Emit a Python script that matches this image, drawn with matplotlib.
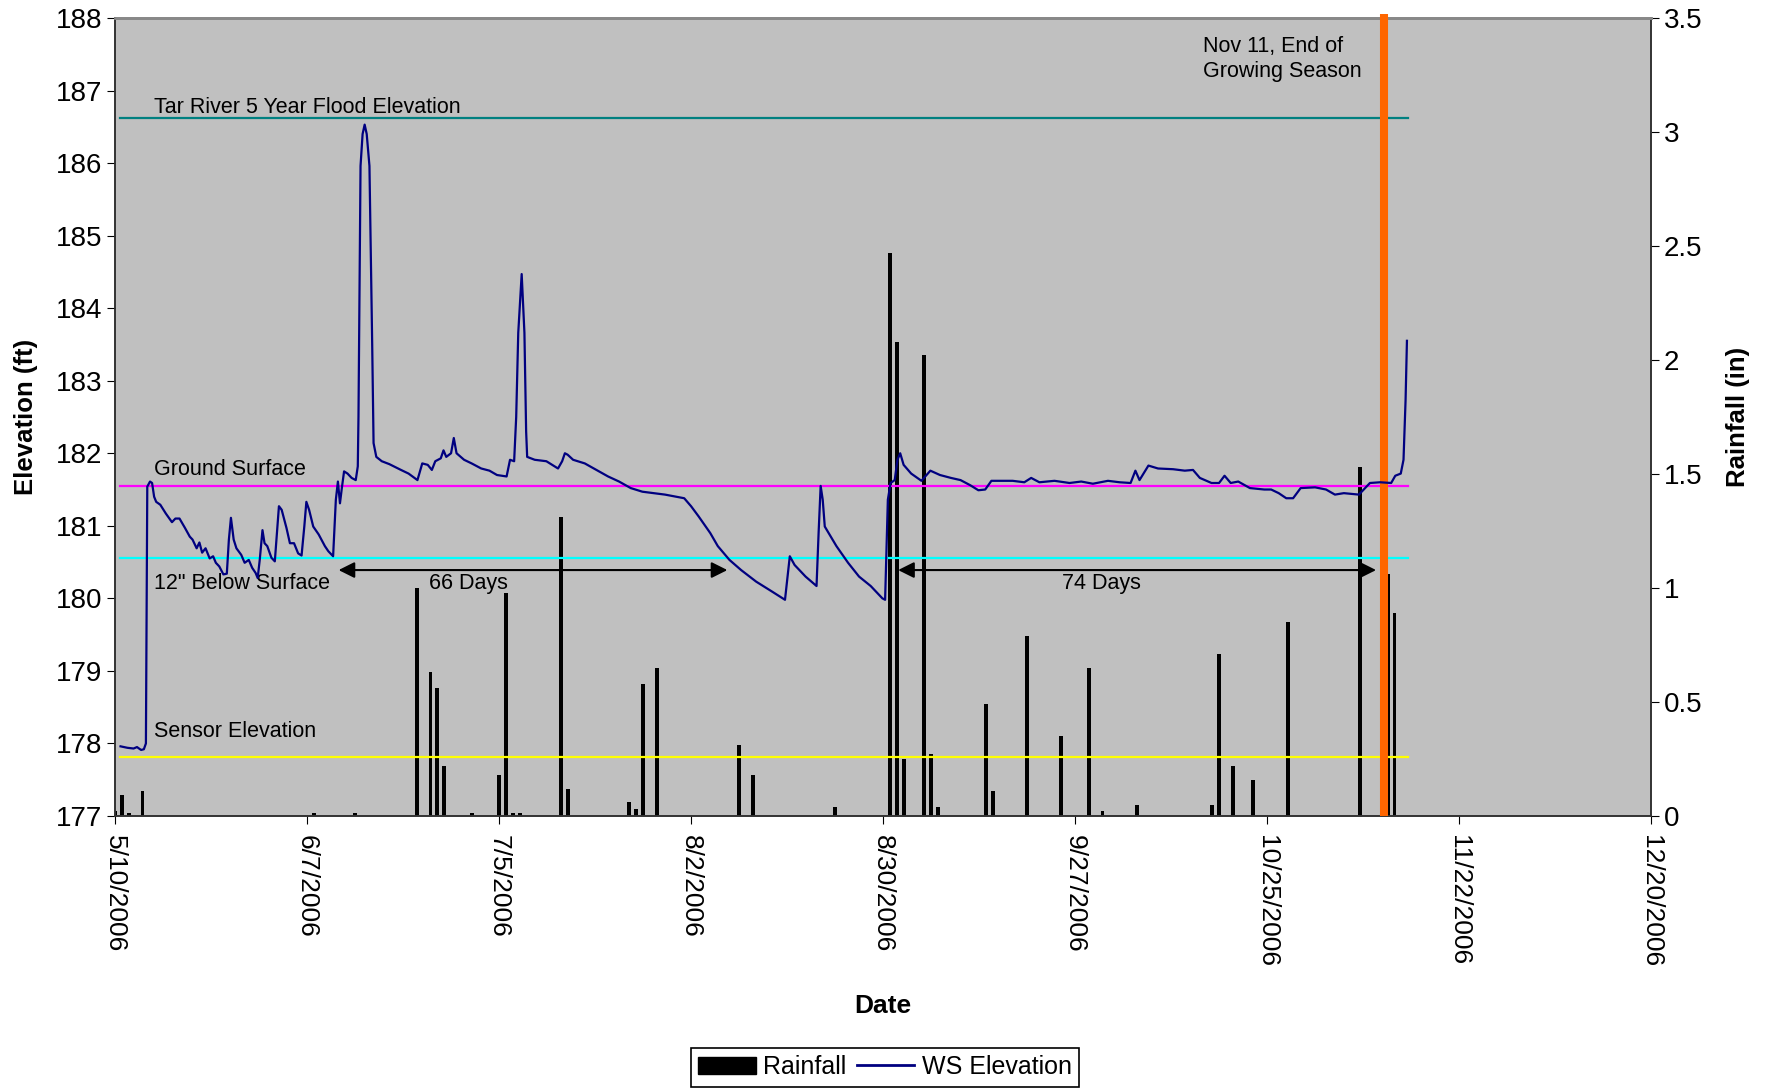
import numpy as np
import matplotlib
matplotlib.use('Agg')
import matplotlib.pyplot as plt
from matplotlib.patches import Patch
from matplotlib.lines import Line2D

# days counted from 5/10/2006
tick_days = [0, 28, 56, 84, 112, 140, 168, 196, 224]
tick_labels = ['5/10/2006', '6/7/2006', '7/5/2006', '8/2/2006', '8/30/2006',
               '9/27/2006', '10/25/2006', '11/22/2006', '12/20/2006']

# water surface elevation (ft)
ws_day = [0.8, 1.8, 2.7, 3.2, 3.8, 4.2, 4.5, 4.7, 5.1, 5.4, 5.7, 6.0, 6.6, 7.4, 8.3,
          8.8, 9.4, 10.2, 10.9, 11.3, 11.9, 12.3, 12.7, 13.2, 13.8, 14.3, 14.7, 15.2,
          15.8, 16.3, 16.6, 16.9, 17.3, 17.7, 18.4, 18.9, 19.5, 20.0, 20.5, 20.8, 21.1,
          21.5, 21.8, 22.2, 22.8, 23.3, 23.6, 23.9, 24.3, 25.0, 25.5, 26.1, 26.7, 27.2,
          27.6, 27.9, 28.3, 28.9, 29.7, 30.6, 31.1, 31.8, 32.2, 32.5, 32.8, 33.1, 33.4,
          33.9, 34.5, 35.1, 35.4, 35.5, 35.8, 36.1, 36.4, 36.7, 37.1, 37.5, 37.7, 38.1,
          38.9, 40.0, 41.7, 42.8, 44.1, 44.8, 45.6, 46.2, 46.7, 47.5, 47.9, 48.3, 49.0,
          49.4, 49.8, 50.9, 52.0, 53.4, 54.6, 55.7, 57.1, 57.6, 58.2, 58.5, 58.8, 59.3,
          59.7, 59.95, 60.1, 61.2, 62.9, 64.6, 65.2, 65.6, 66.0, 66.8, 68.5, 70.2, 71.9,
          73.5, 75.2, 76.9, 78.5, 80.2, 81.9, 83.0, 84.0, 85.1, 86.8, 87.9, 89.6, 91.3,
          93.5, 95.7, 97.7, 98.4, 99.1, 100.7, 102.3, 102.6, 102.9, 103.2, 103.5, 105.2,
          106.9, 108.5, 110.2, 111.9, 112.3, 112.7, 113.1, 113.7, 114.1, 114.5, 115.0,
          116.1, 117.6, 118.9, 120.3, 121.9, 123.3, 124.7, 125.9, 126.9, 127.8, 129.2,
          130.9, 132.6, 133.6, 134.8, 137.0, 139.2, 140.9, 142.6, 144.8, 146.5, 148.1,
          148.8, 149.4, 150.7, 152.1, 154.3, 156.0, 157.2, 158.2, 159.9, 161.0, 161.8,
          162.7, 163.8, 165.5, 167.6, 168.6, 169.7, 170.8, 171.8, 172.9, 175.0, 176.6,
          177.9, 179.2, 181.4, 182.4, 183.0, 184.5, 186.1, 186.7, 187.5, 187.9, 188.2,
          188.4]
ws_elev = [177.96, 177.94, 177.93, 177.95, 177.91, 177.92, 178.0, 181.54, 181.61, 181.59,
           181.40, 181.33, 181.29, 181.17, 181.05, 181.10, 181.10, 180.97, 180.85, 180.81,
           180.69, 180.77, 180.63, 180.69, 180.55, 180.58, 180.49, 180.44, 180.33, 180.34,
           180.81, 181.11, 180.81, 180.69, 180.60, 180.49, 180.53, 180.42, 180.35, 180.28,
           180.53, 180.94, 180.76, 180.72, 180.56, 180.51, 180.90, 181.27, 181.22, 180.97,
           180.76, 180.76, 180.62, 180.59, 180.99, 181.33, 181.22, 180.99, 180.88, 180.72,
           180.65, 180.58, 181.36, 181.61, 181.31, 181.54, 181.75, 181.72, 181.66, 181.63,
           181.82, 182.5, 185.96, 186.4, 186.53, 186.4, 185.96, 183.5, 182.14, 181.95,
           181.89, 181.85, 181.77, 181.72, 181.63, 181.86, 181.84, 181.77, 181.89, 181.93,
           182.04, 181.95, 182.00, 182.21, 182.00, 181.91, 181.86, 181.79, 181.76, 181.70,
           181.68, 181.91, 181.89, 182.5, 183.66, 184.47, 183.66, 182.3, 181.95, 181.91,
           181.89, 181.79, 181.89, 182.00, 181.98, 181.91, 181.86, 181.77, 181.68, 181.61,
           181.52, 181.47, 181.45, 181.43, 181.40, 181.38, 181.27, 181.13, 180.90, 180.72,
           180.53, 180.39, 180.23, 180.10, 179.98, 180.58, 180.46, 180.30, 180.17, 180.90,
           181.55, 181.36, 180.99, 180.72, 180.49, 180.30, 180.17, 180.00, 179.98, 181.36,
           181.59, 181.63, 181.91, 182.00, 181.84, 181.72, 181.62, 181.76, 181.70, 181.66,
           181.63, 181.56, 181.49, 181.50, 181.62, 181.62, 181.62, 181.60, 181.66, 181.60,
           181.62, 181.59, 181.61, 181.58, 181.62, 181.60, 181.59, 181.76, 181.63, 181.83,
           181.79, 181.78, 181.76, 181.77, 181.66, 181.59, 181.59, 181.69, 181.59, 181.61,
           181.52, 181.50, 181.50, 181.45, 181.38, 181.38, 181.52, 181.53, 181.50, 181.43,
           181.45, 181.43, 181.53, 181.59, 181.60, 181.59, 181.69, 181.72, 181.91, 182.73,
           183.55]

# daily rainfall (in)
rain_day = [0, 1, 2, 4, 29, 35, 44, 46, 47, 48, 52, 56, 57, 58, 59, 65, 66, 75, 76, 77,
            79, 91, 93, 105, 113, 114, 115, 118, 119, 120, 127, 128, 133, 138, 142, 144,
            149, 160, 161, 163, 166, 171, 181.5, 185.6, 186.6]
rain_in = [0.02, 0.09, 0.015, 0.11, 0.015, 0.015, 1.00, 0.63, 0.56, 0.22, 0.015, 0.18,
           0.98, 0.015, 0.015, 1.31, 0.12, 0.06, 0.03, 0.58, 0.65, 0.31, 0.18, 0.04,
           2.47, 2.08, 0.25, 2.02, 0.27, 0.04, 0.49, 0.11, 0.79, 0.35, 0.65, 0.02, 0.05,
           0.05, 0.71, 0.22, 0.16, 0.85, 1.53, 1.06, 0.89]

ref_names = ['Tar River 5 Year Flood Elevation', 'Ground Surface',
             '12" Below Surface', 'Sensor Elevation']
ref_elev = [186.62, 181.55, 180.55, 177.81]
ref_colors = ['#008080', '#FF00FF', '#00FFFF', '#FFFF00']
ref_start, ref_end = 0.7, 188.5
season_end = 185  # Nov 11

plt.rcParams['font.family'] = ['Liberation Sans', 'DejaVu Sans']

fig = plt.figure(figsize=(17.7, 10.89), dpi=100)
ax = fig.add_axes([0.065, 0.2507, 0.8678, 0.7328])
axr = ax.twinx()

axr.bar(rain_day, rain_in, width=0.55, color='black', zorder=2)
axr.set_ylim(0, 3.5)
axr.set_yticks(np.arange(0, 3.51, 0.5))
axr.set_yticklabels(['0', '0.5', '1', '1.5', '2', '2.5', '3', '3.5'])

ax.set_zorder(axr.get_zorder() + 1)
ax.patch.set_visible(False)
axr.patch.set_visible(True)
axr.set_facecolor('#C0C0C0')

for name, elev, col in zip(ref_names, ref_elev, ref_colors):
    ax.plot([ref_start, ref_end], [elev, elev], color=col, lw=1.6, zorder=2)

ax.plot([season_end, season_end], [177, 188.05], color='#FF6600', lw=5.8,
        zorder=3, clip_on=False, solid_capstyle='butt')
ax.plot(ws_day, ws_elev, color='#000080', lw=1.6, zorder=4)

fs = 15.5
ax.text(5.7, 186.76, ref_names[0], fontsize=fs, va='center')
ax.text(5.7, 181.78, ref_names[1], fontsize=fs, va='center')
ax.text(5.7, 180.2, ref_names[2], fontsize=fs, va='center')
ax.text(5.7, 178.16, ref_names[3], fontsize=fs, va='center')
ax.text(158.7, 187.44, 'Nov 11, End of\nGrowing Season', fontsize=fs, va='center',
        linespacing=1.25)

arr = dict(arrowstyle='<|-|>', color='black', lw=1.5, mutation_scale=24,
           shrinkA=0, shrinkB=0)
ax.annotate('', xy=(32.6, 180.39), xytext=(89.3, 180.39), arrowprops=arr)
ax.annotate('', xy=(114.2, 180.39), xytext=(183.9, 180.39), arrowprops=arr)
ax.text(51.5, 180.2, '66 Days', fontsize=fs, ha='center', va='center')
ax.text(143.8, 180.2, '74 Days', fontsize=fs, ha='center', va='center')

ax.set_xlim(0, 224)
ax.set_ylim(177, 188)
ax.set_yticks(range(177, 189))
ax.set_xticks(tick_days)
ax.set_xticklabels(tick_labels, rotation=270, fontsize=19, va='top', ha='center')
ax.tick_params(axis='y', labelsize=20, length=6, pad=3, direction='out')
ax.tick_params(axis='x', length=6, pad=8, direction='out')
axr.tick_params(axis='y', labelsize=20, length=6, pad=3, direction='out')

ax.set_ylabel('Elevation (ft)', fontsize=18.5, fontweight='bold')
ax.yaxis.set_label_coords(-0.050, 0.5)
axr.set_ylabel('Rainfall (in)', fontsize=18.5, fontweight='bold')
axr.yaxis.set_label_coords(1.0488, 0.5)
ax.set_xlabel('Date', fontsize=19, fontweight='bold')
ax.xaxis.set_label_coords(0.5, -0.223)

for a in (ax, axr):
    for s in ('left', 'right', 'bottom'):
        a.spines[s].set_color('#333333')
        a.spines[s].set_linewidth(1.2)
    a.spines['top'].set_color('#888888')
    a.spines['top'].set_linewidth(2)

handles = [Patch(facecolor='black', edgecolor='black'),
           Line2D([0], [0], color='#000080', lw=2)]
leg = fig.legend(handles, ['Rainfall', 'WS Elevation'], loc='lower center',
                 bbox_to_anchor=(0.5, 0.0), ncol=2, fontsize=18, fancybox=False,
                 edgecolor='black', framealpha=1, handlelength=2.3,
                 handletextpad=0.3, columnspacing=0.4, borderpad=0.3,
                 borderaxespad=0.1)
leg.get_frame().set_linewidth(1.2)

fig.savefig('out.png', dpi=100)
